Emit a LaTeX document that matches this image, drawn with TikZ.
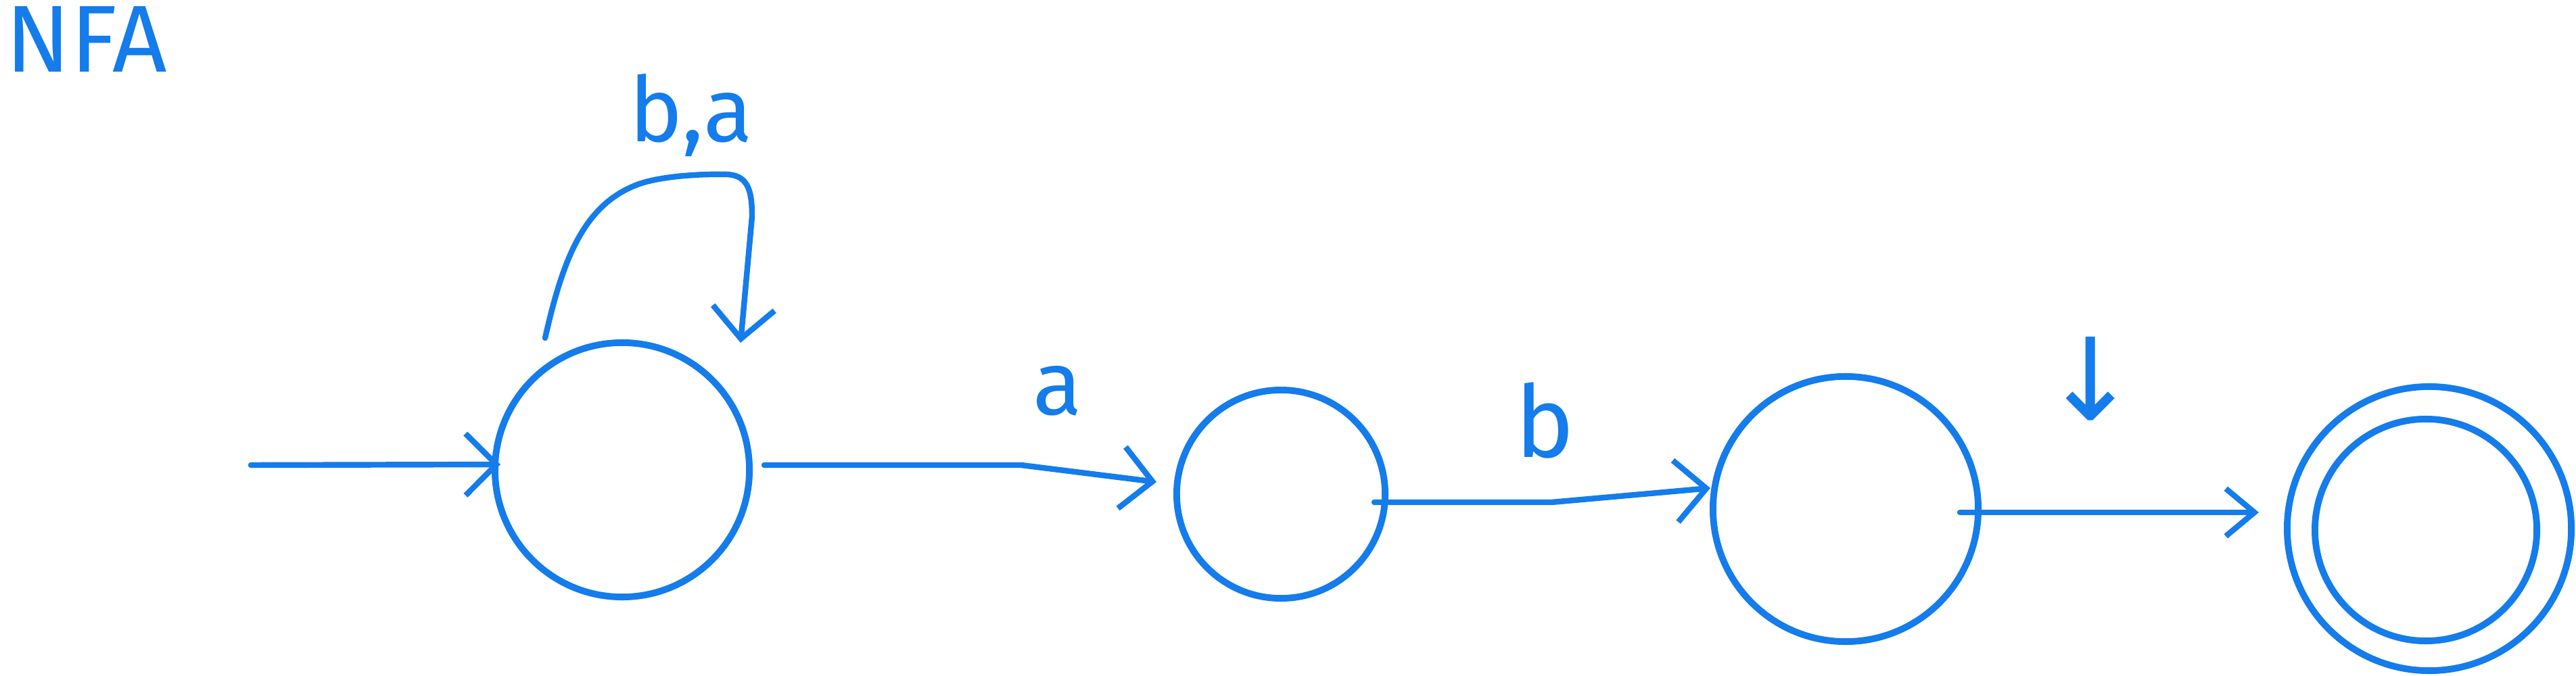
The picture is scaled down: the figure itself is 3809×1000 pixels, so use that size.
\documentclass[tikz,border=0pt]{standalone}
\usepackage{fontspec}
\setmainfont{Fira Sans}
\newfontfamily\arrowfont{DejaVu Sans}
\usetikzlibrary{arrows.meta}
\definecolor{ink}{HTML}{147CEB}
\begin{document}
\begin{tikzpicture}[x=0.01cm,y=-0.01cm,
  state/.style={circle,draw=ink,line width=2.8pt,inner sep=0pt},
  edge/.style={draw=ink,line width=2.4pt,line cap=round,line join=round,
    -{Straight Barb[length=13pt,width=26pt,line width=2.4pt]}},
  smalledge/.style={draw=ink,line width=2.4pt,line cap=round,line join=round,
    -{Straight Barb[length=12pt,width=20pt,line width=2.4pt]}},
  lbl/.style={text=ink,inner sep=0pt,font=\fontsize{38}{42}\selectfont}]
\fill[white] (0,0) rectangle (3809,1000);
\useasboundingbox (0,0) rectangle (3809,1000);

% states
\node[state,minimum size=3.76cm] (s1) at (920,695) {};
\node[state,minimum size=3.08cm] (s2) at (1894,731) {};
\node[state,minimum size=3.92cm] (s3) at (2729,753) {};
\node[state,minimum size=4.2cm] (s4) at (3592,782) {};
\node[state,minimum size=3.28cm] (s4in) at (3587,784) {};

% title
\node[lbl,font=\fontsize{40}{44}\selectfont,anchor=west] (title) at (8,58) {NFA};

% initial arrow
\coordinate (init) at (371,688);
\draw[edge] (init) -- ([shift={(-180,-8)}]s1.center);

% self loop on s1
\draw[edge] ([shift={(-114,-195)}]s1.center)
  .. controls (832,385) and (862,305) .. (940,274)
  .. controls (975,260) and (1040,257) .. (1076,258)
  .. controls (1105,260) and (1112,280) .. (1112,320)
  -- ([shift={(175,-188)}]s1.center);
\node[lbl] (lloop) at (1022,170) {b,a};

% s1 -> s2
\draw[edge] ([shift={(210,-7)}]s1.center) -- ++(380,0) -- ([shift={(-184,-18)}]s2.center);
\node[lbl] (l12) at (1564,578) {a};

% s2 -> s3
\draw[edge] ([shift={(138,12)}]s2.center) -- ++(262,0) -- ([shift={(-200,-31)}]s3.center);
\node[lbl,font=\fontsize{42}{46}\selectfont] (l23) at (2284,622) {b};

% s3 -> s4
\draw[smalledge] ([shift={(169,5)}]s3.center) -- ([shift={(-252,-24)}]s4.center);
\node[lbl,font=\fontsize{48}{52}\arrowfont] (l34) at (3091,560) {↓};
\end{tikzpicture}
\end{document}
